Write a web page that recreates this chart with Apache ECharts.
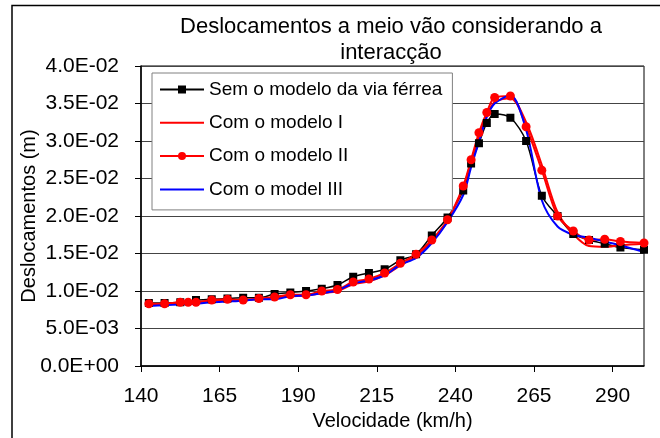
<!DOCTYPE html>
<html>
<head>
<meta charset="utf-8">
<script src="https://cdn.jsdelivr.net/npm/echarts@6/dist/echarts.min.js"></script>
<style>
  html, body { margin: 0; padding: 0; background: #fff; }
  #chart { width: 660px; height: 438px; }
</style>
</head>
<body>
<div id="chart"></div>
<script>
// velocidades (km/h)
const velocidades = [142.5, 147.5, 152.5, 157.5, 162.5, 167.5, 172.5, 177.5, 182.5, 187.5,
  192.5, 197.5, 202.5, 207.5, 212.5, 217.5, 222.5, 227.5, 232.5, 237.5, 242.5, 245, 247.5,
  250, 252.5, 257.5, 262.5, 267.5, 272.5, 277.5, 282.5, 287.5, 292.5, 300]
// o modelo II tem um ponto extra a 155 km/h
const velocidadesModeloII = [142.5, 147.5, 152.5, 155, 157.5, 162.5, 167.5, 172.5, 177.5, 182.5,
  187.5, 192.5, 197.5, 202.5, 207.5, 212.5, 217.5, 222.5, 227.5, 232.5, 237.5, 242.5, 245,
  247.5, 250, 252.5, 257.5, 262.5, 267.5, 272.5, 277.5, 282.5, 287.5, 292.5, 300]

// deslocamentos (m)
const semModelo = [0.0084, 0.0084, 0.0085, 0.0088, 0.0089, 0.0090, 0.0091, 0.0091, 0.0096, 0.0098,
  0.0100, 0.0103, 0.0108, 0.0119, 0.0124, 0.0129, 0.0141, 0.0149, 0.0174, 0.0198, 0.0234, 0.0270,
  0.0297, 0.0324, 0.0336, 0.0331, 0.0300, 0.0227, 0.0200, 0.0176, 0.0168, 0.0163, 0.0158, 0.0155]
const modeloI = [0.0082, 0.0083, 0.0084, 0.0085, 0.0087, 0.0088, 0.0088, 0.0089, 0.0091, 0.0093,
  0.0094, 0.0097, 0.0100, 0.0109, 0.0113, 0.0121, 0.0134, 0.0147, 0.0166, 0.0193, 0.0238, 0.0272,
  0.0306, 0.0334, 0.0352, 0.0357, 0.0325, 0.0268, 0.0205, 0.0176, 0.0160, 0.0159, 0.0161, 0.0163]
const modeloII = [0.0083, 0.0083, 0.0085, 0.0085, 0.0085, 0.0088, 0.0089, 0.0088, 0.0090, 0.0092,
  0.0095, 0.0095, 0.0100, 0.0102, 0.0112, 0.0116, 0.0124, 0.0137, 0.0149, 0.0168, 0.0195, 0.0240,
  0.0275, 0.0311, 0.0338, 0.0358, 0.0360, 0.0319, 0.0261, 0.0200, 0.0180, 0.0168, 0.0169, 0.0166, 0.0164]
const modeloIII = [0.0080, 0.0081, 0.0082, 0.0083, 0.0085, 0.0086, 0.0087, 0.0089, 0.0089, 0.0093,
  0.0094, 0.0097, 0.0101, 0.0110, 0.0114, 0.0121, 0.0135, 0.0144, 0.0164, 0.0192, 0.0228, 0.0265,
  0.0299, 0.0332, 0.0350, 0.0361, 0.0315, 0.0221, 0.0186, 0.0175, 0.0171, 0.0166, 0.0161, 0.0152]

const xTicks = [140, 165, 190, 215, 240, 265, 290]

const FONT = "'Liberation Sans', Arial, sans-serif"

function pares(xs, ys) {
  return xs.map((x, i) => [x, ys[i]])
}

// 0.035 -> 3.5E-02
function formatoCientifico(v) {
  if (v === 0) return '0.0E+00'
  const parts = v.toExponential(1).split('e')
  const e = parseInt(parts[1], 10)
  return parts[0] + 'E' + (e < 0 ? '-' : '+') + String(Math.abs(e)).padStart(2, '0')
}

const chart = echarts.init(document.getElementById('chart'))

const option = {
  backgroundColor: '#fff',
  animation: false,
  textStyle: { fontFamily: FONT, color: '#000' },
  title: {
    text: 'Deslocamentos a meio vão considerando a\ninteracção',
    left: 386,
    top: 9,
    textAlign: 'center',
    textStyle: { fontFamily: FONT, fontSize: 22, fontWeight: 'normal', color: '#000', lineHeight: 26 }
  },
  graphic: [{
    type: 'rect',
    shape: { x: 12, y: 5.5, width: 700, height: 500 },
    style: { fill: 'none', stroke: '#000', lineWidth: 1.5 },
    silent: true
  }],
  legend: {
    orient: 'vertical',
    left: 152,
    top: 73,
    backgroundColor: '#fff',
    borderColor: '#808080',
    borderWidth: 1,
    borderRadius: 0,
    padding: [7, 10, 11, 7],
    itemGap: 14.3,
    itemWidth: 44,
    itemHeight: 10,
    textStyle: { fontFamily: FONT, fontSize: 19, color: '#000' },
    data: [
      { name: 'Sem o modelo da via férrea' },
      { name: 'Com o modelo I', itemStyle: { opacity: 0 } },
      { name: 'Com o modelo II' },
      { name: 'Com o model III', itemStyle: { opacity: 0 } }
    ]
  },
  grid: {
    left: 141,
    right: 16,
    top: 66,
    bottom: 72,
    show: true,
    borderColor: '#000',
    borderWidth: 1
  },
  xAxis: {
    type: 'value',
    min: 140,
    max: 300,
    name: 'Velocidade (km/h)',
    nameLocation: 'middle',
    nameGap: 39,
    nameTextStyle: { fontFamily: FONT, fontSize: 20, color: '#000' },
    axisLine: { lineStyle: { color: '#000', width: 1.5 } },
    axisTick: { show: true, length: 6, customValues: xTicks, lineStyle: { color: '#000' } },
    axisLabel: { margin: 20, fontSize: 21, color: '#000', fontFamily: FONT, customValues: xTicks },
    splitLine: { show: false }
  },
  yAxis: {
    type: 'value',
    min: 0,
    max: 0.04,
    interval: 0.005,
    name: 'Deslocamentos (m)',
    nameLocation: 'middle',
    nameGap: 102,
    nameMoveOverlap: false,
    nameTextStyle: { fontFamily: FONT, fontSize: 20, color: '#000' },
    axisLine: { show: true, lineStyle: { color: '#000', width: 1.5 } },
    axisTick: { show: true, length: 6, lineStyle: { color: '#000' } },
    axisLabel: { margin: 22, fontSize: 21, color: '#000', fontFamily: FONT, formatter: formatoCientifico },
    splitLine: { show: true, lineStyle: { color: '#444', width: 1 } }
  },
  series: [
    {
      name: 'Sem o modelo da via férrea',
      type: 'line',
      smooth: 0.3,
      data: pares(velocidades, semModelo),
      symbol: 'rect',
      symbolSize: 8,
      lineStyle: { color: '#000', width: 1.5 },
      itemStyle: { color: '#000' }
    },
    {
      name: 'Com o modelo I',
      type: 'line',
      smooth: 0.3,
      data: pares(velocidades, modeloI),
      symbol: 'none',
      lineStyle: { color: '#ff0000', width: 2 },
      itemStyle: { color: '#ff0000' }
    },
    {
      name: 'Com o modelo II',
      type: 'line',
      smooth: 0.3,
      data: pares(velocidadesModeloII, modeloII),
      symbol: 'circle',
      symbolSize: 9,
      lineStyle: { color: '#ff0000', width: 2 },
      itemStyle: { color: '#ff0000' }
    },
    {
      name: 'Com o model III',
      type: 'line',
      smooth: 0.3,
      data: pares(velocidades, modeloIII),
      symbol: 'none',
      lineStyle: { color: '#0000ff', width: 2 },
      itemStyle: { color: '#0000ff' }
    }
  ]
}

chart.setOption(option)
</script>
</body>
</html>
